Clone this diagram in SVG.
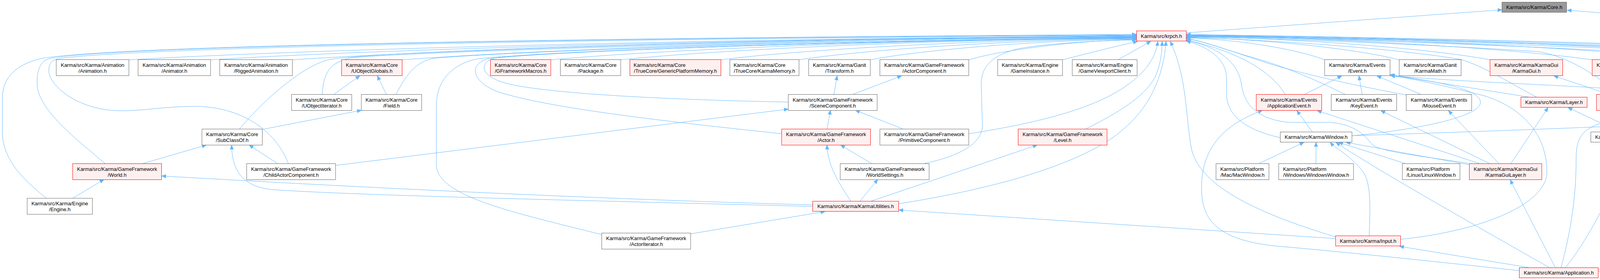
<svg xmlns="http://www.w3.org/2000/svg" width="5217" height="716" viewBox="0 0 5217 716">
<style>
.w{fill:#ffffff;stroke:#666666;stroke-width:1}
.r{fill:#fff0f0;stroke:#ff0000;stroke-width:1}
.g{fill:#999999;stroke:#666666;stroke-width:1}
text{font-family:"Liberation Sans",Arial,Helvetica,sans-serif;font-size:13px;fill:#000000}
.m{text-anchor:middle}
.e path{fill:none;stroke:#63b8ff;stroke-width:1;marker-end:url(#ah)}
</style>
<defs>
<marker id="ah" markerUnits="userSpaceOnUse" markerWidth="12" markerHeight="10" refX="11" refY="5" orient="auto">
<path d="M0,0.5 L11,5 L0,9.5 z" fill="#63b8ff" stroke="#63b8ff" stroke-width="1"/>
</marker>
</defs>
<rect width="5217" height="716" fill="#ffffff"/>
<g id="edges" class="e">
<path d="M3037,84 L3845,25"/>
<path d="M3461,347 C4000,330 4600,305 4870,285 C4910,270 4905,210 4860,180 C4750,110 4400,55 4012,26"/>
<path d="M330,153 C846,123 2006,96 2909,93"/>
<path d="M539,153 C1013,123 2080,96.5 2909,93.5"/>
<path d="M748.5,153 C1180,123.5 2152,97 2909,94"/>
<path d="M1029,153 C1405,124 2251,97.4 2909,94.5"/>
<path d="M1410,153 C1710,125 2384,99.8 2909,97"/>
<path d="M1589,153 C1853,125 2447,100 2909,97.5"/>
<path d="M1845,153 C2058,125.5 2537,100.7 2909,98"/>
<path d="M2045.5,153 C2218,126 2606,101.7 2909,99"/>
<path d="M2228,153 C2364,126.5 2671,102.6 2909,100"/>
<path d="M2480,153 C2566,127 2759,103.6 2909,101"/>
<path d="M2720,153 C2790,135 2870,115 2912,106"/>
<path d="M2862,153 C2890,137 2920,120 2946,106"/>
<path d="M3391,153 C3320,125 3161,99.8 3037,97"/>
<path d="M3582,153 C3473,124.5 3228,98.8 3037,96"/>
<path d="M3815,153 C3659,123.5 3309,97 3037,94"/>
<path d="M4076,153 C3868,123 3400,96 3037,93"/>
<path d="M4337,153 C4077,122.5 3492,95 3037,92"/>
<path d="M4590,153 C4279,121.7 3580,93.6 3037,90.5"/>
<path d="M3290,241 C3255,185 3180,135 3037,102"/>
<path d="M3443,241 C3370,205 3290,170 3200,145 C3130,125 3080,105 3037,99"/>
<path d="M3600,243 C3450,215 3320,185 3240,160 C3150,130 3080,105 3037,98"/>
<path d="M3935,249 C3870,215 3800,170 3740,152 C3550,120 3200,100 3037,95"/>
<path d="M4143,241 C4080,185 4010,145 3940,132 C3600,110 3200,97 3037,93.5"/>
<path d="M4365,241 C4320,180 4290,145 4200,134 C3800,112 3300,97 3037,92.5"/>
<path d="M4573,241 C4560,185 4540,150 4470,140 C4000,115 3400,98 3037,91"/>
<path d="M4787,241 C4800,190 4795,155 4740,146 C4300,120 3500,98 3037,90"/>
<path d="M4276,346 C4600,332 4860,312 4885,270 C4905,230 4880,170 4780,150 C4400,118 3500,97 3037,91.5"/>
<path d="M5121,507 C5100,420 5093,360 5093,300 L5093,230 C5093,180 5060,155 5000,150 C4600,118 3600,96 3037,88"/>
<path d="M4091,689 C4500,670 4950,600 4995,550 C5007,530 5007,520 5007,500 L5007,260 C5007,200 4950,165 4850,148 C4500,118 3500,95 3037,89"/>
<path d="M3277,352 C3180,330 3140,290 3140,240 L3140,200 C3140,150 3090,118 3037,105"/>
<path d="M3761,418 C3650,400 3540,390 3513,370 C3490,340 3460,315 3400,313 L3300,313 C3220,305 3185,270 3178,215 C3170,160 3120,120 3037,103"/>
<path d="M3420,606 C3200,540 3070,470 3050,380 C3035,300 3040,200 2996,106"/>
<path d="M2300,521 C2500,490 2700,440 2820,370 C2940,300 2978,200 2985,106"/>
<path d="M2779,330 C2870,285 2940,240 2960,190 C2972,160 2975,130 2975,106"/>
<path d="M2481,342 C2620,320 2760,290 2850,240 C2930,195 2958,150 2964,106"/>
<path d="M119,507 C60,460 8,410 6,340 L6,250 C6,200 40,168 95,152 C200,125 1000,100 2909,88"/>
<path d="M269,418 C200,360 96,280 95,215 C94,170 108,152 135,148 C300,122 1200,100 2909,89"/>
<path d="M738,418 C700,320 600,272 499,272 C420,272 360,285 300,283 C200,280 125,220 125,180 C125,160 135,152 155,149 C350,125 1200,102 2909,90"/>
<path d="M613,330 C680,250 780,165 845,152 C1000,128 2000,100 2909,91"/>
<path d="M825,241 C828,185 845,157 905,147 C1200,125 2300,100 2909,92"/>
<path d="M1014,241 C1040,190 1065,158 1110,149 C1400,125 2300,102 2909,95"/>
<path d="M1541,600 C1300,540 1117,500 1117,420 L1117,270 C1117,205 1160,162 1225,150 C1500,124 2400,101 2909,95.5"/>
<path d="M2001,342 C1700,310 1420,278 1285,238 C1210,215 1195,165 1250,150 C1500,124 2400,101 2909,96"/>
<path d="M2018,261 C1700,255 1360,238 1280,208 C1225,188 1228,155 1275,147 C1500,124 2400,101 2909,96.5"/>
<path d="M2367,418 C2450,400 2515,370 2515,320 L2512,220 C2510,170 2540,140 2610,124 C2700,108 2850,103 2909,102"/>
<path d="M186,507 L266,459"/>
<path d="M366,418 L528,371"/>
<path d="M710,418 L638,371"/>
<path d="M859,423 L2018,279"/>
<path d="M671,331 L925,282"/>
<path d="M855,241 L921,194"/>
<path d="M989,241 L966,194"/>
<path d="M2135,241 L2143,194"/>
<path d="M2184,241 L2308,194"/>
<path d="M2117,330 L2126,282"/>
<path d="M2312,330 L2190,282"/>
<path d="M2231,418 L2152,371"/>
<path d="M2178,515 C2150,470 2120,430 2117,371"/>
<path d="M2201,515 L2247,459"/>
<path d="M2228,515 L2655,371"/>
<path d="M2081,524 C1500,508 900,478 414,450"/>
<path d="M2081,528 C1600,515 900,500 700,485 C615,478 594,430 593,371"/>
<path d="M1768,598 L2112,541"/>
<path d="M3419,610 L2301,537"/>
<path d="M3340,241 L3435,194"/>
<path d="M3487,241 L3479,194"/>
<path d="M3637,241 L3525,194"/>
<path d="M3918,249 L3560,192"/>
<path d="M4296,242 C4100,218 3800,215 3560,193"/>
<path d="M3461,347 C3650,330 3790,295 3790,262 C3790,230 3700,212 3558,191"/>
<path d="M3585,612 C3800,590 3960,520 3960,440 C3960,330 3880,270 3800,245 C3720,225 3640,205 3559,193"/>
<path d="M3360,338 L3320,283"/>
<path d="M3787,418 L3372,283"/>
<path d="M3813,418 L3535,283"/>
<path d="M3837,418 L3708,283"/>
<path d="M3868,418 L3963,275"/>
<path d="M3760,421 L3446,364"/>
<path d="M4118,241 L3978,194"/>
<path d="M4542,241 L4467,194"/>
<path d="M4757,241 L4712,194"/>
<path d="M4146,337 L4014,275"/>
<path d="M3223,418 L3338,364"/>
<path d="M3369,418 L3369,364"/>
<path d="M3597,418 L3427,364"/>
<path d="M3505,603 C3508,530 3510,470 3490,440 C3460,400 3420,380 3405,364"/>
<path d="M3968,685 C3800,590 3500,420 3420,364"/>
<path d="M3913,684 L3583,630"/>
<path d="M3890,692 C3700,672 3500,650 3300,632 C3110,620 3076,560 3076,480 C3076,380 3130,320 3232,282"/>
<path d="M3982,685 L3866,460"/>
<path d="M4007,685 C4060,620 4140,480 4167,364"/>
<path d="M3996,685 C4030,560 4035,470 4035,400 C4035,345 4060,322 4120,310 L4296,281"/>
<path d="M4091,694 C4500,685 4900,670 5010,640 C5060,625 5090,590 5114,549"/>
</g>
<g id="n_core"><rect class="g" x="3845" y="5.5" width="165.5" height="26"/><text class="m" x="3927.8" y="23">Karma/src/Karma/Core.h</text></g>
<g id="n_krpch"><rect class="r" x="2909.5" y="79" width="127.5" height="26"/><text class="m" x="2973.3" y="96.5">Karma/src/krpch.h</text></g>
<g id="n_anim"><rect class="w" x="144" y="152.5" width="186" height="41"/><text class="m" x="237" y="170.5">Karma/src/Karma/Animation</text><text class="m" x="237" y="185.5">/Animation.h</text></g>
<g id="n_animator"><rect class="w" x="353.5" y="152.5" width="185.5" height="41"/><text class="m" x="446.3" y="170.5">Karma/src/Karma/Animation</text><text class="m" x="446.3" y="185.5">/Animator.h</text></g>
<g id="n_rigged"><rect class="w" x="562.5" y="152.5" width="186" height="41"/><text class="m" x="655.5" y="170.5">Karma/src/Karma/Animation</text><text class="m" x="655.5" y="185.5">/RiggedAnimation.h</text></g>
<g id="n_uoglobals"><rect class="r" x="874.5" y="152.5" width="155" height="41"/><text class="m" x="952" y="170.5">Karma/src/Karma/Core</text><text class="m" x="952" y="185.5">/UObjectGlobals.h</text></g>
<g id="n_gfm"><rect class="r" x="1255.5" y="152.5" width="154.5" height="41"/><text class="m" x="1332.8" y="170.5">Karma/src/Karma/Core</text><text class="m" x="1332.8" y="185.5">/GFrameworkMacros.h</text></g>
<g id="n_package"><rect class="w" x="1434.5" y="152.5" width="154.5" height="41"/><text class="m" x="1511.8" y="170.5">Karma/src/Karma/Core</text><text class="m" x="1511.8" y="185.5">/Package.h</text></g>
<g id="n_gpm"><rect class="r" x="1612.5" y="152.5" width="233" height="41"/><text x="1622.1" y="170.5">Karma/src/Karma/Core</text><text class="m" x="1729" y="185.5">/TrueCore/GenericPlatformMemory.h</text></g>
<g id="n_kmem"><rect class="w" x="1868.5" y="152.5" width="177" height="41"/><text x="1877.9" y="170.5">Karma/src/Karma/Core</text><text class="m" x="1957" y="185.5">/TrueCore/KarmaMemory.h</text></g>
<g id="n_transform"><rect class="w" x="2070" y="152.5" width="158" height="41"/><text class="m" x="2149" y="170.5">Karma/src/Karma/Ganit</text><text class="m" x="2149" y="185.5">/Transform.h</text></g>
<g id="n_actorcomp"><rect class="w" x="2252.5" y="152.5" width="227.5" height="41"/><text class="m" x="2366.3" y="170.5">Karma/src/Karma/GameFramework</text><text class="m" x="2366.3" y="185.5">/ActorComponent.h</text></g>
<g id="n_gameinst"><rect class="w" x="2554" y="152.5" width="166" height="41"/><text class="m" x="2637" y="170.5">Karma/src/Karma/Engine</text><text class="m" x="2637" y="185.5">/GameInstance.h</text></g>
<g id="n_gvc"><rect class="w" x="2745" y="152.5" width="166" height="41"/><text class="m" x="2828" y="170.5">Karma/src/Karma/Engine</text><text class="m" x="2828" y="185.5">/GameViewportClient.h</text></g>
<g id="n_event"><rect class="w" x="3391" y="152.5" width="167.5" height="41"/><text class="m" x="3474.8" y="170.5">Karma/src/Karma/Events</text><text class="m" x="3474.8" y="185.5">/Event.h</text></g>
<g id="n_kmath"><rect class="w" x="3582" y="152.5" width="158.5" height="41"/><text class="m" x="3661.3" y="170.5">Karma/src/Karma/Ganit</text><text class="m" x="3661.3" y="185.5">/KarmaMath.h</text></g>
<g id="n_kgui"><rect class="r" x="3814.5" y="152.5" width="186" height="41"/><text class="m" x="3907.5" y="170.5">Karma/src/Karma/KarmaGui</text><text class="m" x="3907.5" y="185.5">/KarmaGui.h</text></g>
<g id="n_kguirend"><rect class="r" x="4076" y="152.5" width="186" height="41"/><text class="m" x="4169" y="170.5">Karma/src/Karma/KarmaGui</text><text class="m" x="4169" y="185.5">/KarmaGuiRenderer.h</text></g>
<g id="n_buffer"><rect class="r" x="4337" y="152.5" width="179.5" height="41"/><text class="m" x="4426.8" y="170.5">Karma/src/Karma/Renderer</text><text class="m" x="4426.8" y="185.5">/Buffer.h</text></g>
<g id="n_camera"><rect class="r" x="4590" y="152.5" width="180" height="41"/><text class="m" x="4680" y="170.5">Karma/src/Karma/Renderer</text><text class="m" x="4680" y="185.5">/Camera/Camera.h</text></g>
<g id="n_uoiter"><rect class="w" x="746.5" y="241.5" width="154" height="41"/><text class="m" x="823.5" y="259.5">Karma/src/Karma/Core</text><text class="m" x="823.5" y="274.5">/UObjectIterator.h</text></g>
<g id="n_field"><rect class="w" x="925" y="241.5" width="154.5" height="41"/><text class="m" x="1002.3" y="259.5">Karma/src/Karma/Core</text><text class="m" x="1002.3" y="274.5">/Field.h</text></g>
<g id="n_scene"><rect class="w" x="2018" y="241.5" width="227.5" height="41"/><text class="m" x="2131.8" y="259.5">Karma/src/Karma/GameFramework</text><text class="m" x="2131.8" y="274.5">/SceneComponent.h</text></g>
<g id="n_appevent"><rect class="r" x="3216" y="241.5" width="167.5" height="41"/><text class="m" x="3299.8" y="259.5">Karma/src/Karma/Events</text><text class="m" x="3299.8" y="274.5">/ApplicationEvent.h</text></g>
<g id="n_keyevent"><rect class="w" x="3408" y="241.5" width="167.5" height="41"/><text class="m" x="3491.8" y="259.5">Karma/src/Karma/Events</text><text class="m" x="3491.8" y="274.5">/KeyEvent.h</text></g>
<g id="n_mouseevent"><rect class="w" x="3600" y="241.5" width="167.5" height="41"/><text class="m" x="3683.8" y="259.5">Karma/src/Karma/Events</text><text class="m" x="3683.8" y="274.5">/MouseEvent.h</text></g>
<g id="n_layer"><rect class="r" x="3893.5" y="248.5" width="169.5" height="26"/><text class="m" x="3978.3" y="266">Karma/src/Karma/Layer.h</text></g>
<g id="n_kguiint"><rect class="r" x="4087" y="241.5" width="185.5" height="41"/><text class="m" x="4179.8" y="259.5">Karma/src/Karma/KarmaGui</text><text class="m" x="4179.8" y="274.5">/KarmaGuiInternal.h</text></g>
<g id="n_cde"><rect class="r" x="4295.5" y="241.5" width="168" height="41"/><text class="m" x="4379.5" y="259.5">Karma/src/Karma/Events</text><text class="m" x="4379.5" y="274.5">/ControllerDeviceEvent.h</text></g>
<g id="n_mesh"><rect class="r" x="4487.5" y="241.5" width="179.5" height="41"/><text class="m" x="4577.3" y="259.5">Karma/src/Karma/Renderer</text><text class="m" x="4577.3" y="274.5">/Mesh.h</text></g>
<g id="n_material"><rect class="r" x="4691.5" y="241.5" width="179.5" height="41"/><text class="m" x="4781.3" y="259.5">Karma/src/Karma/Renderer</text><text class="m" x="4781.3" y="274.5">/Material.h</text></g>
<g id="n_subclass"><rect class="w" x="517" y="330" width="154.5" height="41"/><text class="m" x="594.3" y="348">Karma/src/Karma/Core</text><text class="m" x="594.3" y="363">/SubClassOf.h</text></g>
<g id="n_actor"><rect class="r" x="2001" y="330" width="227.5" height="41"/><text class="m" x="2114.8" y="348">Karma/src/Karma/GameFramework</text><text class="m" x="2114.8" y="363">/Actor.h</text></g>
<g id="n_primitive"><rect class="w" x="2252.5" y="330" width="227.5" height="41"/><text class="m" x="2366.3" y="348">Karma/src/Karma/GameFramework</text><text class="m" x="2366.3" y="363">/PrimitiveComponent.h</text></g>
<g id="n_level"><rect class="r" x="2606.5" y="330" width="227.5" height="41"/><text class="m" x="2720.3" y="348">Karma/src/Karma/GameFramework</text><text class="m" x="2720.3" y="363">/Level.h</text></g>
<g id="n_window"><rect class="w" x="3277.5" y="337.5" width="183.5" height="26"/><text class="m" x="3369.3" y="355">Karma/src/Karma/Window.h</text></g>
<g id="n_layerstack"><rect class="w" x="4072.5" y="337.5" width="203" height="26"/><text class="m" x="4174" y="355">Karma/src/Karma/LayerStack.h</text></g>
<g id="n_world"><rect class="r" x="186" y="418.5" width="227.5" height="41"/><text class="m" x="299.8" y="436.5">Karma/src/Karma/GameFramework</text><text class="m" x="299.8" y="451.5">/World.h</text></g>
<g id="n_childactor"><rect class="w" x="631.5" y="418.5" width="227.5" height="41"/><text class="m" x="745.3" y="436.5">Karma/src/Karma/GameFramework</text><text class="m" x="745.3" y="451.5">/ChildActorComponent.h</text></g>
<g id="n_worldsettings"><rect class="w" x="2151" y="418.5" width="227.5" height="41"/><text class="m" x="2264.8" y="436.5">Karma/src/Karma/GameFramework</text><text class="m" x="2264.8" y="451.5">/WorldSettings.h</text></g>
<g id="n_macwin"><rect class="w" x="3113" y="418.5" width="135.5" height="41"/><text x="3124" y="436.5">Karma/src/Platform</text><text class="m" x="3180.8" y="451.5">/Mac/MacWindow.h</text></g>
<g id="n_winwin"><rect class="w" x="3273.5" y="418.5" width="191.5" height="41"/><text x="3284.4" y="436.5">Karma/src/Platform</text><text class="m" x="3369.3" y="451.5">/Windows/WindowsWindow.h</text></g>
<g id="n_linuxwin"><rect class="w" x="3590" y="418.5" width="147.5" height="41"/><text x="3600.5" y="436.5">Karma/src/Platform</text><text class="m" x="3663.8" y="451.5">/Linux/LinuxWindow.h</text></g>
<g id="n_kguilayer"><rect class="r" x="3761.5" y="418.5" width="185.5" height="41"/><text class="m" x="3854.3" y="436.5">Karma/src/Karma/KarmaGui</text><text class="m" x="3854.3" y="451.5">/KarmaGuiLayer.h</text></g>
<g id="n_engine"><rect class="w" x="69.5" y="507" width="167" height="41"/><text class="m" x="153" y="525">Karma/src/Karma/Engine</text><text class="m" x="153" y="540">/Engine.h</text></g>
<g id="n_kutil"><rect class="r" x="2080.5" y="514.5" width="220" height="26"/><text class="m" x="2190.5" y="532">Karma/src/Karma/KarmaUtilities.h</text></g>
<g id="n_ksmriti"><rect class="w" x="5047" y="507" width="164.5" height="41"/><text x="5057" y="525">Karma/src/Karma/Core</text><text class="m" x="5129.3" y="540">/TrueCore/KarmaSmriti.h</text></g>
<g id="n_actoriter"><rect class="w" x="1540.5" y="596" width="227.5" height="41"/><text class="m" x="1654.3" y="614">Karma/src/Karma/GameFramework</text><text class="m" x="1654.3" y="629">/ActorIterator.h</text></g>
<g id="n_input"><rect class="r" x="3419" y="603" width="166.5" height="26"/><text class="m" x="3502.3" y="620.5">Karma/src/Karma/Input.h</text></g>
<g id="n_app"><rect class="r" x="3889.5" y="684.5" width="202" height="26"/><text class="m" x="3990.5" y="702">Karma/src/Karma/Application.h</text></g>
</svg>
